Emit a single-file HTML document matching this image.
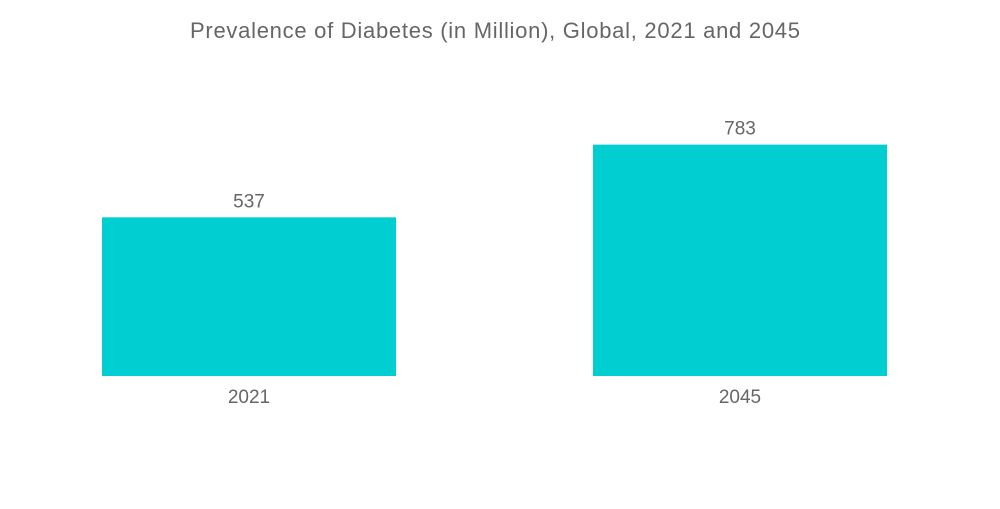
<!DOCTYPE html>
<html>
<head>
<meta charset="utf-8">
<style>
  html,body{margin:0;padding:0;background:#fff;}
  body{width:1000px;height:504px;overflow:hidden;font-family:"Liberation Sans",sans-serif;}
  svg text{font-family:"Liberation Sans",sans-serif;fill:#666;}
</style>
</head>
<body>
<svg id="chart" width="1000" height="504" viewBox="0 0 1000 504">
  <text x="190" y="38" font-size="22" textLength="610" lengthAdjust="spacing">Prevalence of Diabetes (in Million), Global, 2021 and 2045</text>
  <g id="bars"></g>
</svg>
<script>
const categories = ["2021", "2045"];
const values = [537, 783];
const valueLabels = ["537", "783"];

const baseY = 376;
const pxPerUnit = 0.2955;
const barLeft = [102, 593];
const barW = 294;
function yScale(v){ return baseY - v * pxPerUnit; }
function xScale(i){ return barLeft[0] + i * (barLeft[1] - barLeft[0]); }

const g = document.getElementById('bars');
const ns = 'http://www.w3.org/2000/svg';
categories.forEach((c, i) => {
  const x = xScale(i);
  const y = yScale(values[i]);
  const r = document.createElementNS(ns, 'rect');
  r.setAttribute('x', x);
  r.setAttribute('y', y);
  r.setAttribute('width', barW);
  r.setAttribute('height', baseY - y);
  r.setAttribute('fill', '#00CED1');
  
  
  g.appendChild(r);

  const vl = document.createElementNS(ns, 'text');
  vl.setAttribute('x', x + barW / 2);
  vl.setAttribute('y', y - 10);
  vl.setAttribute('font-size', '19');
  vl.setAttribute('text-anchor', 'middle');
  vl.textContent = valueLabels[i];
  
  
  g.appendChild(vl);

  const cl = document.createElementNS(ns, 'text');
  cl.setAttribute('x', x + barW / 2);
  cl.setAttribute('y', 403);
  cl.setAttribute('font-size', '19');
  cl.setAttribute('text-anchor', 'middle');
  cl.textContent = c;
  
  
  g.appendChild(cl);
});
</script>
</body>
</html>
